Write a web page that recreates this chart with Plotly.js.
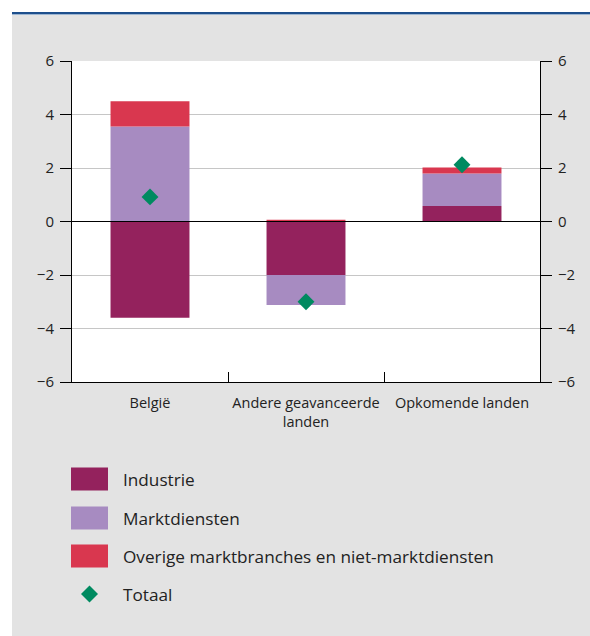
<!DOCTYPE html>
<html>
<head>
<meta charset="utf-8">
<script src="https://cdn.plot.ly/plotly-3.0.1.min.js"></script>
<style>
  html, body { margin: 0; padding: 0; background: #ffffff; width: 590px; height: 636px; overflow: hidden; }
  #topline { position: absolute; left: 12px; top: 12px; width: 578px; height: 2px; background: #1d4f8c; }
  #topline2 { position: absolute; left: 12px; top: 14px; width: 578px; height: 1px; background: #9db6d2; }
  #chart { position: absolute; left: 12px; top: 15px; width: 578px; height: 621px; }
</style>
</head>
<body>
<div id="topline"></div>
<div id="topline2"></div>
<div id="chart"></div>
<script>
// ---- data ----
const categories = ["België", "Andere geavanceerde<br>landen", "Opkomende landen"];
const industrie = [-3.6, -2.0, 0.58];
const marktdiensten = [3.55, -1.12, 1.21];
const overige = [0.95, 0.07, 0.23];
const totaal = [0.92, -3.0, 2.12];
const seriesNames = ["Industrie", "Marktdiensten", "Overige marktbranches en niet-marktdiensten", "Totaal"];
const yTicks = [-6, -4, -2, 0, 2, 4, 6];
const gridVals = [-4, -2, 2, 4];

// ---- styles ----
const colors = ["#94225d", "#a78bc1", "#d9374f", "#008a60"];
const fontFam = "'Open Sans', 'Noto Sans', sans-serif";
const textCol = "#222222";

const traces = [
  { type: "bar", x: categories, y: industrie, name: seriesNames[0], marker: { color: colors[0] }, showlegend: false },
  { type: "bar", x: categories, y: marktdiensten, name: seriesNames[1], marker: { color: colors[1] }, showlegend: false },
  { type: "bar", x: categories, y: overige, name: seriesNames[2], marker: { color: colors[2] }, showlegend: false },
  { type: "scatter", mode: "markers", x: categories, y: totaal, name: seriesNames[3], yaxis: "y2",
    marker: { symbol: "diamond", size: 13, color: colors[3] }, showlegend: false }
];

// conversion helpers for absolute page pixels -> paper coords (plot area: x 72..540, y 61..382)
const PX0 = 72, PX1 = 540, PY0 = 61, PY1 = 382;
const px = v => (v - PX0) / (PX1 - PX0);
const py = v => (PY1 - v) / (PY1 - PY0);

const legendRows = [479, 518, 556, 594];
const shapes = [
  { type: "line", xref: "paper", yref: "y", x0: 0, x1: 1, y0: 0, y1: 0, line: { color: "#000000", width: 1 }, layer: "above" }
];
const annotations = [];
for (let i = 0; i < 4; i++) {
  const yc = legendRows[i];
  if (i < 3) {
    shapes.push({ type: "rect", xref: "paper", yref: "paper",
      x0: px(71), x1: px(108), y0: py(yc + 11.5), y1: py(yc - 11.5),
      fillcolor: colors[i], line: { width: 0 } });
  } else {
    shapes.push({ type: "path", xref: "paper", yref: "paper", xsizemode: "pixel", ysizemode: "pixel",
      xanchor: px(89.5), yanchor: py(yc),
      path: "M0,8.5 L8.5,0 L0,-8.5 L-8.5,0 Z", fillcolor: colors[3], line: { width: 0 } });
  }
  annotations.push({ xref: "paper", yref: "paper", x: px(121), y: py(yc), xanchor: "left", yanchor: "middle",
    text: seriesNames[i], showarrow: false, font: { family: fontFam, size: 17.2, color: textCol } });
}

const axisCommon = {
  range: [-6, 6], tickvals: yTicks, showline: true, linecolor: "#000000", linewidth: 1,
  ticks: "outside", ticklen: 11, tickcolor: "#000000", tickwidth: 1, ticklabelstandoff: 3,
  zeroline: false, tickfont: { family: fontFam, size: 15, color: textCol }, fixedrange: true
};

const layout = {
  width: 578, height: 621,
  margin: { l: 60, r: 50, t: 46, b: 254 },
  paper_bgcolor: "#e3e3e3", plot_bgcolor: "#ffffff",
  barmode: "relative", bargap: 0.494,
  showlegend: false,
  xaxis: {
    type: "category", showline: true, linecolor: "#000000", linewidth: 1,
    ticks: "inside", tickson: "boundaries", ticklen: 10, tickcolor: "#000000", ticklabelstandoff: 8,
    tickangle: 0,
    showgrid: false, zeroline: false, tickfont: { family: fontFam, size: 14.5, color: textCol }, fixedrange: true
  },
  yaxis: Object.assign({}, axisCommon, { side: "left", showgrid: false,
    minor: { tickvals: gridVals, showgrid: true, gridcolor: "#c6c6c6", gridwidth: 1, ticks: "" } }),
  yaxis2: Object.assign({}, axisCommon, { side: "right", overlaying: "y", showgrid: false }),
  shapes: shapes,
  annotations: annotations,
  font: { family: fontFam, color: textCol }
};

Plotly.newPlot("chart", traces, layout, { displayModeBar: false, staticPlot: true });
</script>
</body>
</html>
